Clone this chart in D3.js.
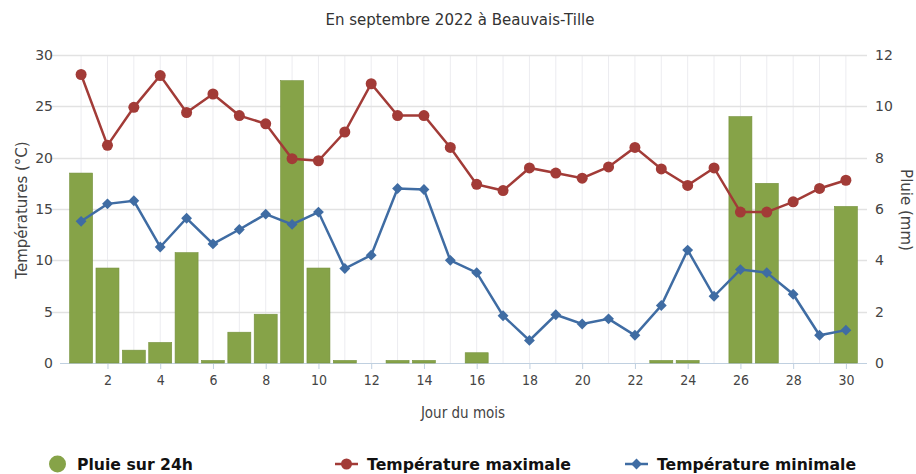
<!DOCTYPE html>
<html lang="fr">
<head>
<meta charset="utf-8">
<title>Beauvais-Tille septembre 2022</title>
<script src="https://d3js.org/d3.v7.min.js"></script>
<style>
  body{margin:0;background:#fff;font-family:"DejaVu Sans",sans-serif;}
  .axis text{fill:#444;}
</style>
</head>
<body>
<div id="chart"></div>
<script>
// données
var days = d3.range(1, 31)
var pluie = [7.4,3.7,0.5,0.8,4.3,0.1,1.2,1.9,11.0,3.7,0.1,0,0.1,0.1,0,0.4,0,0,0,0,0,0,0.1,0.1,0,9.6,7.0,0,0,6.1]
var tmax = [28.1,21.2,24.9,28.0,24.4,26.2,24.1,23.3,19.9,19.7,22.5,27.2,24.1,24.1,21.0,17.4,16.8,19.0,18.5,18.0,19.1,21.0,18.9,17.3,19.0,14.7,14.7,15.7,17.0,17.8]
var tmin = [13.8,15.5,15.8,11.3,14.1,11.6,13.0,14.5,13.5,14.7,9.2,10.5,17.0,16.9,10.0,8.8,4.6,2.2,4.7,3.8,4.3,2.7,5.6,11.0,6.5,9.1,8.8,6.7,2.7,3.2]
var tempTicks = [0,5,10,15,20,25,30]
var rainTicks = [0,2,4,6,8,10,12]
var dayTicks = d3.range(2, 31, 2)

var W = 916, H = 474
var pL = 60, pR = 867, pT = 55, pB = 363
var green = "#86a348", red = "#a23b37", blue = "#3f6ca3"

var svg = d3.select("#chart").append("svg").attr("width", W).attr("height", H)

var x = d3.scaleLinear().domain([0.2, 30.8]).range([pL, pR])
var yT = d3.scaleLinear().domain([0, 30]).range([pB, pT])
var yR = d3.scaleLinear().domain([0, 12]).range([pB, pT])

// grille
svg.append("g").selectAll("line").data(days).enter().append("line")
  .attr("x1", d => x(d)).attr("x2", d => x(d))
  .attr("y1", pT).attr("y2", pB)
  .attr("stroke", "#ececf0").attr("stroke-width", 1)
svg.append("g").selectAll("line").data(tempTicks.slice(1)).enter().append("line")
  .attr("x1", 50).attr("x2", pR)
  .attr("y1", d => Math.round(yT(d)) + 0.5).attr("y2", d => Math.round(yT(d)) + 0.5)
  .attr("stroke", "#e2e2e2").attr("stroke-width", 1.5)

// axes
var yAxisL = d3.axisLeft(yT).tickValues(tempTicks).tickSize(0).tickPadding(3)
svg.append("g").attr("class", "axis").attr("transform", "translate(" + (pL - 4) + ",0)")
  .call(yAxisL).call(g => g.select(".domain").remove())
  .selectAll("text").attr("font-size", 14).attr("font-family", "DejaVu Sans")

var yAxisR = d3.axisRight(yR).tickValues(rainTicks).tickSize(0).tickPadding(8)
svg.append("g").attr("class", "axis").attr("transform", "translate(" + pR + ",0)")
  .call(yAxisR).call(g => g.select(".domain").remove())
  .selectAll("text").attr("font-size", 14).attr("font-family", "DejaVu Sans")

var xAxis = d3.axisBottom(x).tickValues(dayTicks).tickSize(6).tickPadding(6)
var gx = svg.append("g").attr("class", "axis").attr("transform", "translate(0," + pB + ")").call(xAxis)
gx.select(".domain").attr("stroke", "#c0d0e0").attr("d", "M" + pL + ",0.5H" + pR)
gx.selectAll(".tick line").attr("stroke", "#c0d0e0")
gx.selectAll("text").attr("font-size", 14).attr("font-family", "DejaVu Sans Condensed, DejaVu Sans")

// barres pluie
svg.append("g").selectAll("rect").data(days).enter().append("rect")
  .attr("x", d => x(d) - 11.5)
  .attr("width", 23)
  .attr("y", (d, i) => yR(pluie[i]))
  .attr("height", (d, i) => pB - yR(pluie[i]))
  .attr("fill", green).attr("stroke", "#75913c").attr("stroke-width", 0.6)

// lignes
var line = d3.line().x((d, i) => x(days[i]))
function drawLine(vals, color) {
  svg.append("path").datum(vals)
    .attr("d", line.y(d => yT(d)))
    .attr("fill", "none").attr("stroke", color).attr("stroke-width", 2.5)
}
drawLine(tmax, red)
drawLine(tmin, blue)

svg.append("g").selectAll("circle").data(tmax).enter().append("circle")
  .attr("cx", (d, i) => x(days[i])).attr("cy", d => yT(d)).attr("r", 5.5).attr("fill", red)

var diamond = d3.symbol().type(d3.symbolDiamond2).size(75)
svg.append("g").selectAll("path").data(tmin).enter().append("path")
  .attr("d", diamond)
  .attr("transform", (d, i) => "translate(" + x(days[i]) + "," + yT(d) + ")")
  .attr("fill", blue)

// titres
svg.append("text").attr("x", 460).attr("y", 25).attr("text-anchor", "middle")
  .attr("font-size", 15).attr("fill", "#333").text("En septembre 2022 à Beauvais-Tille")
svg.append("text").attr("transform", "translate(27,210) rotate(-90)").attr("text-anchor", "middle")
  .attr("font-size", 15).attr("fill", "#444").text("Températures (°C)")
svg.append("text").attr("transform", "translate(901,210) rotate(90)").attr("text-anchor", "middle")
  .attr("font-size", 15).attr("fill", "#444").text("Pluie (mm)")
svg.append("text").attr("x", 463).attr("y", 418).attr("text-anchor", "middle")
  .attr("font-size", 15).attr("fill", "#444").attr("font-family", "DejaVu Sans Condensed, DejaVu Sans")
  .text("Jour du mois")

// légende
var lg = svg.append("g").attr("font-weight", "bold").attr("font-size", 16).attr("fill", "#111")
lg.append("circle").attr("cx", 57.5).attr("cy", 464).attr("r", 8.5).attr("fill", green)
lg.append("text").attr("x", 77).attr("y", 470).attr("textLength", 116).attr("lengthAdjust", "spacingAndGlyphs").text("Pluie sur 24h")
var legItems = [[335, red, "Température maximale", 204], [625, blue, "Température minimale", 199]]
legItems.forEach(function (it, k) {
  lg.append("line").attr("x1", it[0]).attr("x2", it[0] + 23).attr("y1", 464).attr("y2", 464)
    .attr("stroke", it[1]).attr("stroke-width", 2.5)
  if (k == 0) {
    lg.append("circle").attr("cx", it[0] + 11.5).attr("cy", 464).attr("r", 5.5).attr("fill", it[1])
  } else {
    lg.append("path").attr("d", diamond).attr("transform", "translate(" + (it[0] + 11.5) + ",464)").attr("fill", it[1])
  }
  lg.append("text").attr("x", it[0] + 32).attr("y", 470).attr("textLength", it[3])
    .attr("lengthAdjust", "spacingAndGlyphs").text(it[2])
})
</script>
</body>
</html>
